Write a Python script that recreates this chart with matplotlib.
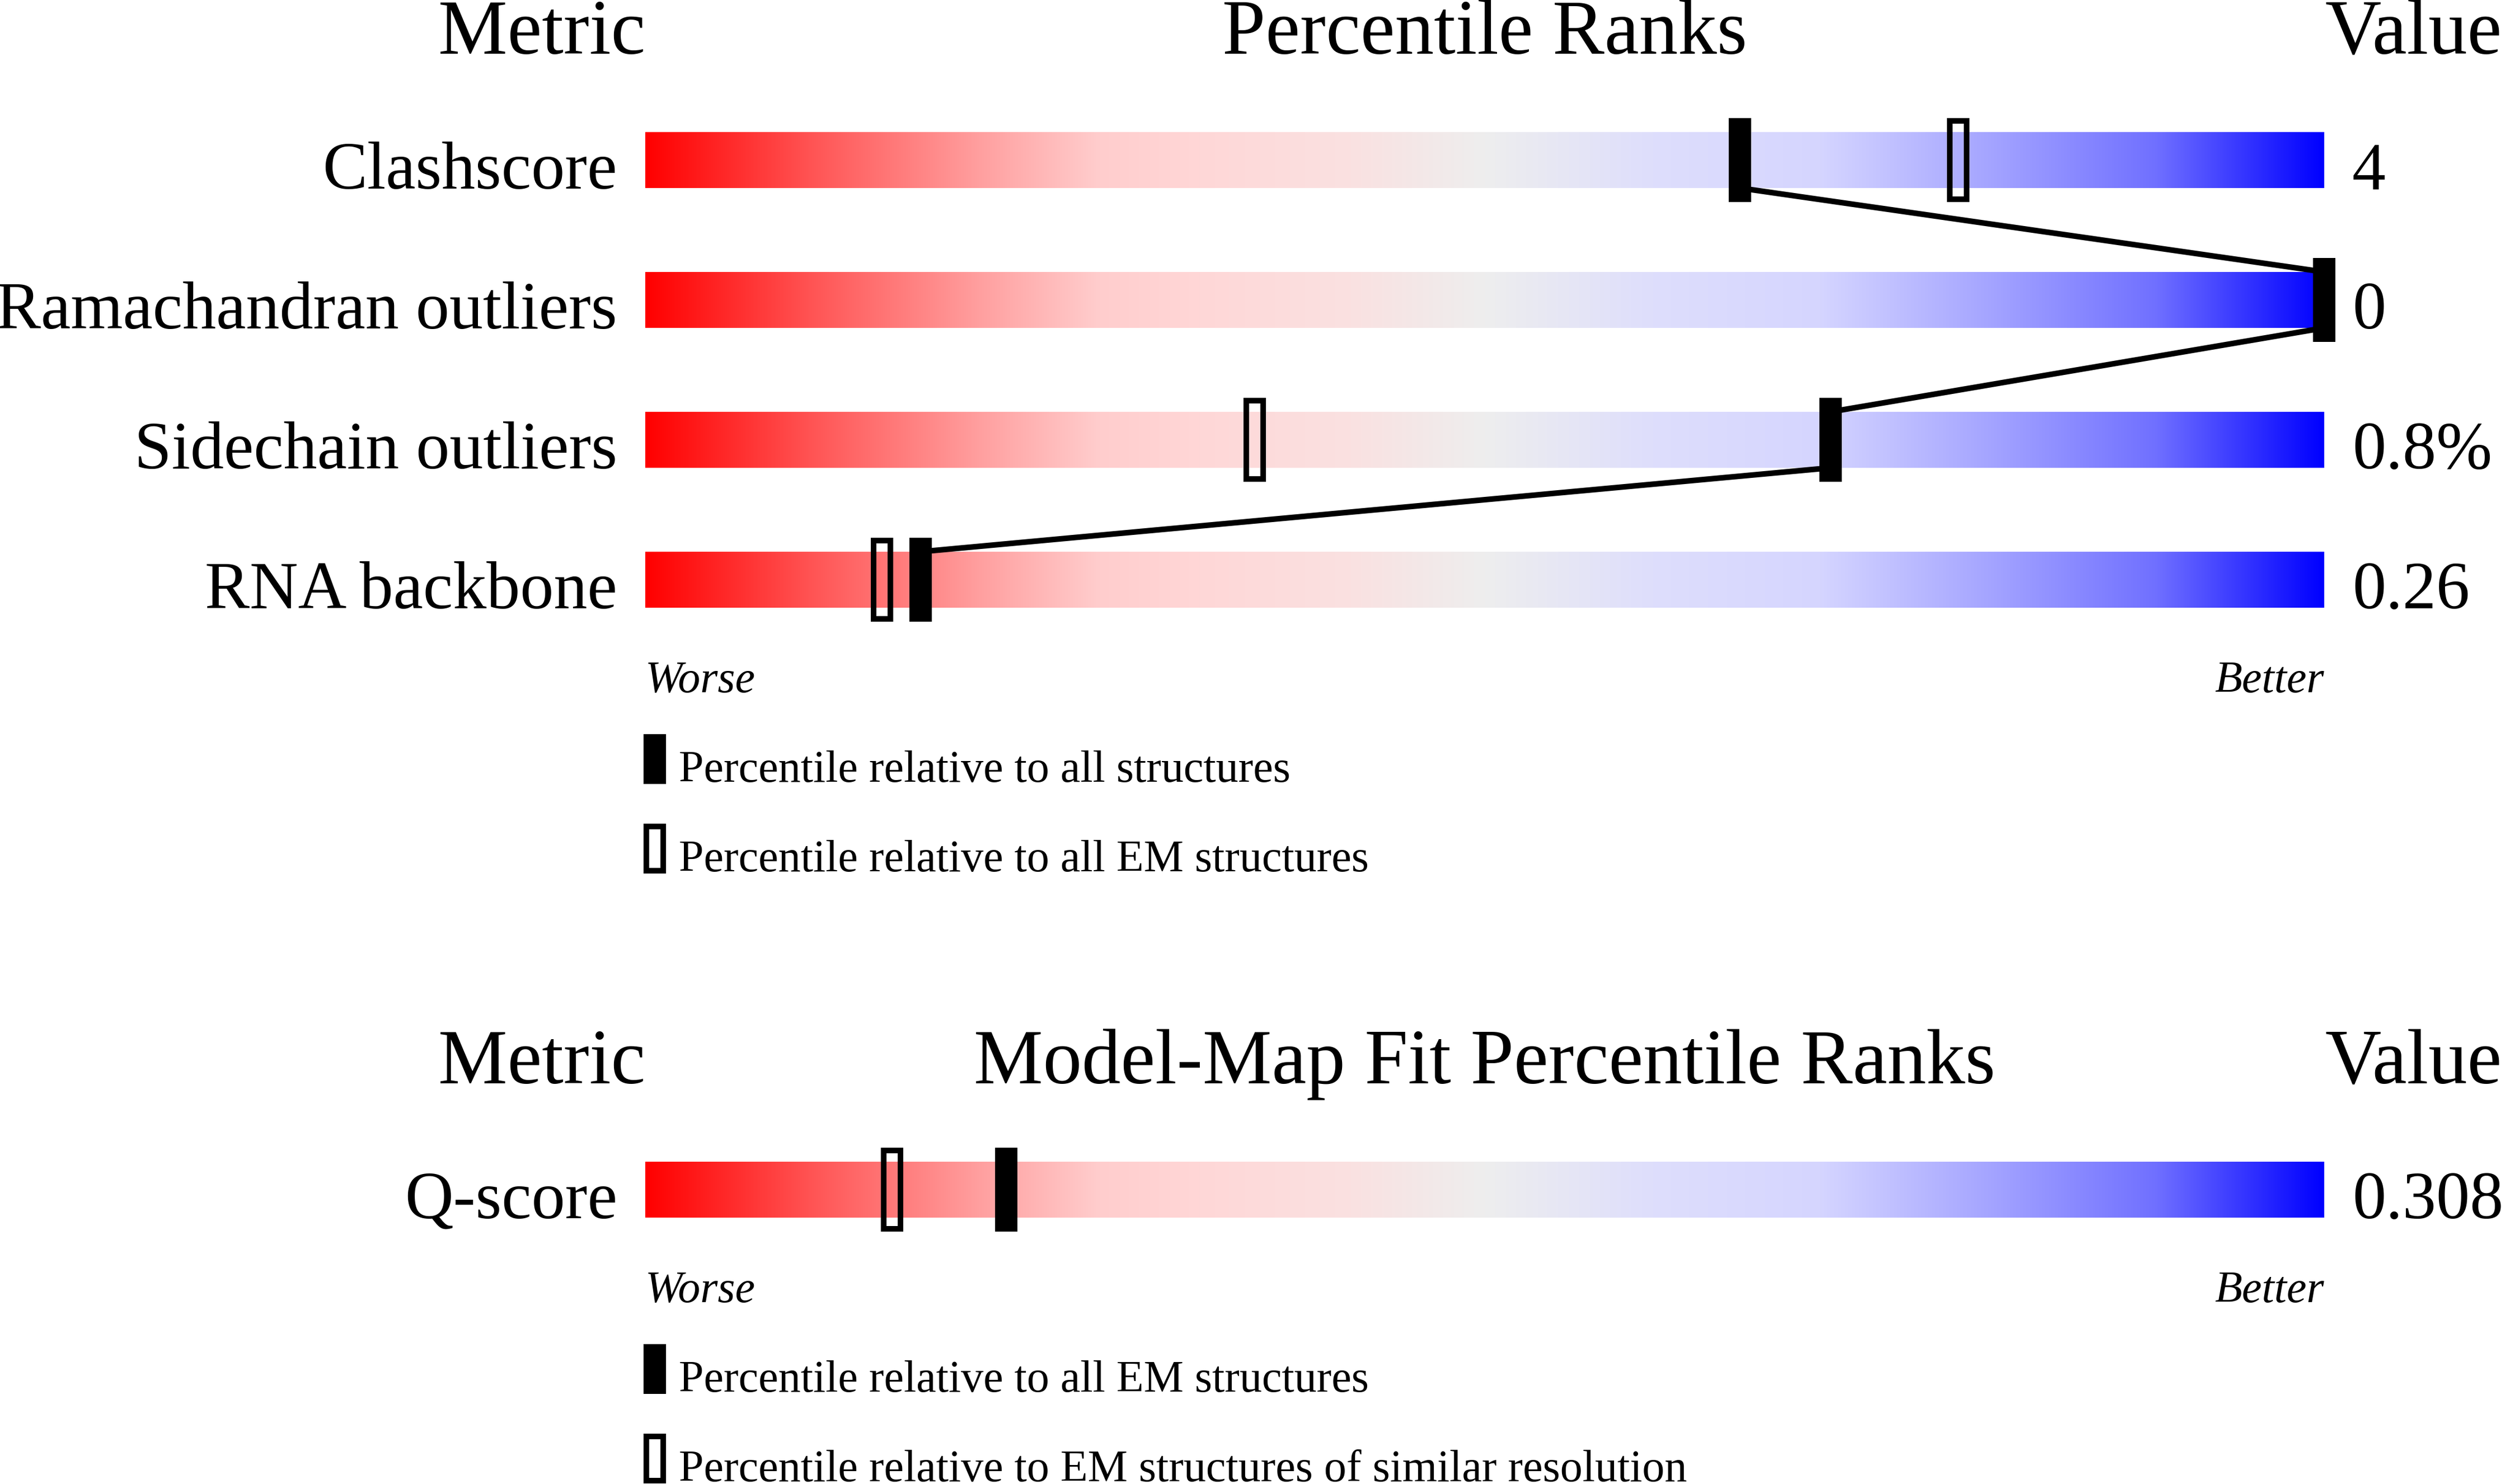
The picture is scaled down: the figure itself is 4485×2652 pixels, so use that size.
import numpy as np
import matplotlib
matplotlib.use('Agg')
import matplotlib.pyplot as plt
from matplotlib.colors import LinearSegmentedColormap
from matplotlib.patches import Rectangle

# ---------------- data ----------------
metrics = ["Clashscore", "Ramachandran outliers", "Sidechain outliers", "RNA backbone"]
metric_values = ["4", "0", "0.8%", "0.26"]
pct_all = [65.2, 100.0, 70.6, 16.4]          # percentile relative to all structures
pct_em = [78.2, None, 36.3, 14.1]            # percentile relative to all EM structures

fit_metrics = ["Q-score"]
fit_values = ["0.308"]
fit_pct_all_em = [21.5]                      # relative to all EM structures
fit_pct_similar = [14.7]                     # relative to EM structures of similar resolution

top_headers = ["Metric", "Percentile Ranks", "Value"]
bottom_headers = ["Metric", "Model-Map Fit Percentile Ranks", "Value"]
top_legend = ["Percentile relative to all structures", "Percentile relative to all EM structures"]
bottom_legend = ["Percentile relative to all EM structures",
                 "Percentile relative to EM structures of similar resolution"]

# ---------------- style ----------------
W, H = 4485, 2652
DPI = 100
FONT = "Liberation Serif"
PX = 0.72  # pt per px at dpi 100

stops = [
    (0.00, (255, 0, 0)),
    (0.10, (255, 85, 85)),
    (0.20, (255, 160, 160)),
    (0.27, (255, 205, 205)),
    (0.33, (255, 215, 215)),
    (0.42, (250, 225, 225)),
    (0.50, (238, 238, 238)),
    (0.60, (222, 222, 252)),
    (0.70, (213, 213, 255)),
    (0.80, (165, 165, 255)),
    (0.90, (112, 112, 255)),
    (1.00, (0, 0, 255)),
]
cmap = LinearSegmentedColormap.from_list(
    "slider", [(p, tuple(c / 255 for c in rgb)) for p, rgb in stops], N=1024)

fig = plt.figure(figsize=(W / DPI, H / DPI), dpi=DPI)
bg = fig.add_axes([0, 0, 1, 1])
bg.set_xlim(0, W)
bg.set_ylim(H, 0)
bg.axis('off')

BAR_L, BAR_R = 1153, 4153
ROW = 250          # px per row
UNIT_X = (BAR_R - BAR_L) / 100.0   # px per percentile
BAR_H = 0.4        # row units (100 px)
MK_H = 0.6         # row units (150 px)
MK_W = 40 / UNIT_X
LW = 10 * PX
INSET_X = 5 / UNIT_X
INSET_Y = 5 / ROW


def section_axes(first_center_px, nrows):
    top = first_center_px - ROW / 2
    hpx = nrows * ROW
    ax = fig.add_axes([BAR_L / W, 1 - (top + hpx) / H, (BAR_R - BAR_L) / W, hpx / H])
    return ax


def draw_section(ax, n, filled, hollow, connect):
    grad = np.linspace(0, 1, 1024).reshape(1, -1)
    for i in range(n):
        ax.imshow(grad, cmap=cmap, extent=(0, 100, i + BAR_H / 2, i - BAR_H / 2),
                  aspect='auto', interpolation='bilinear', zorder=1)
    if connect:
        for i in range(n - 1):
            ax.plot([filled[i], filled[i + 1]], [i + BAR_H / 2, i + 1 - BAR_H / 2],
                    color='black', lw=LW, solid_capstyle='butt', zorder=3, clip_on=False)
    for i in range(n):
        if hollow[i] is not None:
            ax.add_patch(Rectangle((hollow[i] - MK_W / 2 + INSET_X, i - MK_H / 2 + INSET_Y),
                                   MK_W - 2 * INSET_X, MK_H - 2 * INSET_Y,
                                   fill=False, edgecolor='black', lw=LW,
                                   joinstyle='miter', zorder=4, clip_on=False))
        ax.add_patch(Rectangle((filled[i] - MK_W / 2, i - MK_H / 2), MK_W, MK_H,
                               facecolor='black', edgecolor='none', zorder=5, clip_on=False))
    ax.set_xlim(0, 100)
    ax.set_ylim(n - 0.5, -0.5)
    ax.axis('off')


def header(y, texts):
    bg.text(BAR_L, y, texts[0], ha='right', va='baseline', fontsize=139 * PX, family=FONT)
    bg.text((BAR_L + BAR_R) / 2, y, texts[1], ha='center', va='baseline', fontsize=139 * PX, family=FONT)
    bg.text(BAR_R + 2, y, texts[2], ha='left', va='baseline', fontsize=139 * PX, family=FONT)


def labels(first_center, names, vals):
    for i, (nm, v) in enumerate(zip(names, vals)):
        base = first_center + i * ROW + 51
        bg.text(BAR_L - 50, base, nm, ha='right', va='baseline', fontsize=120 * PX, family=FONT)
        bg.text(BAR_R + 50, base, v, ha='left', va='baseline', fontsize=120 * PX, family=FONT)


def worse_better(y):
    bg.text(BAR_L, y, "Worse", ha='left', va='baseline', fontsize=80 * PX, family=FONT, style='italic')
    bg.text(BAR_R, y, "Better", ha='right', va='baseline', fontsize=80 * PX, family=FONT, style='italic')


def legend(y_top, texts):
    # filled glyph
    bg.add_patch(Rectangle((1150, y_top), 40, 89, facecolor='black', edgecolor='none'))
    bg.text(1213, y_top + 85, texts[0], ha='left', va='baseline', fontsize=80 * PX, family=FONT)
    y2 = y_top + 160
    bg.add_patch(Rectangle((1155, y2 + 5), 30, 79, fill=False, edgecolor='black', lw=LW,
                           joinstyle='miter'))
    bg.text(1213, y2 + 85, texts[1], ha='left', va='baseline', fontsize=80 * PX, family=FONT)


# ---------------- top section ----------------
header(96, top_headers)
ax1 = section_axes(286, len(metrics))
draw_section(ax1, len(metrics), pct_all, pct_em, connect=True)
labels(286, metrics, metric_values)
worse_better(1237)
legend(1312, top_legend)

# ---------------- bottom section ----------------
header(1936, bottom_headers)
ax2 = section_axes(2126, len(fit_metrics))
draw_section(ax2, len(fit_metrics), fit_pct_all_em, fit_pct_similar, connect=True)
labels(2126, fit_metrics, fit_values)
worse_better(2327)
legend(2402, bottom_legend)

fig.savefig("out.png", dpi=DPI, facecolor='white')
